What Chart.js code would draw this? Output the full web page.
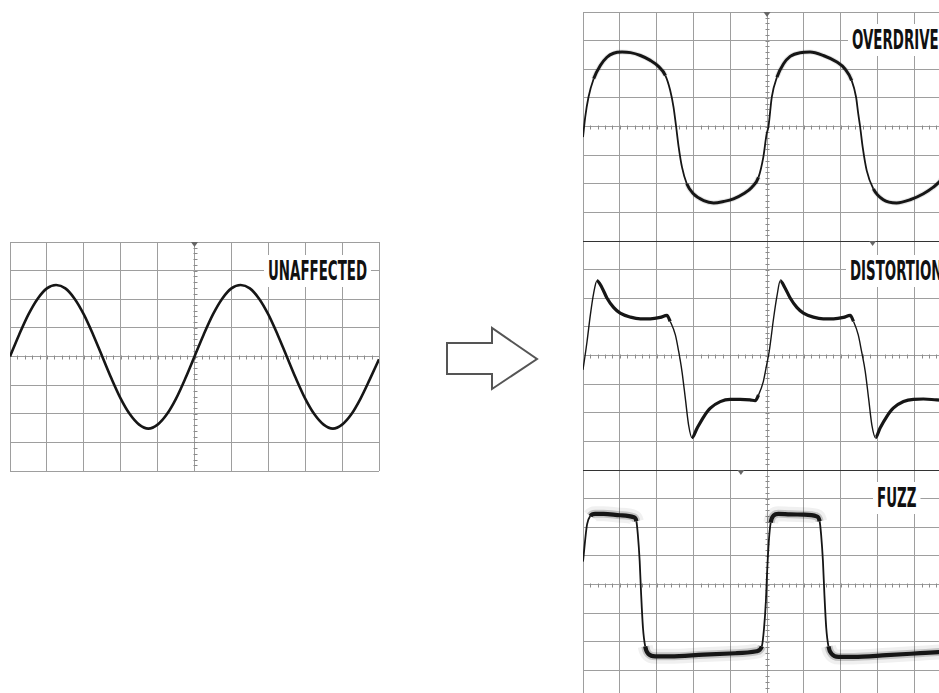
<!DOCTYPE html>
<html>
<head>
<meta charset="utf-8">
<title>Effect waveforms</title>
<script src="https://cdn.jsdelivr.net/npm/chart.js@4.4.1/dist/chart.umd.min.js"></script>
<style>
    html, body { margin: 0; padding: 0; background: #fff; width: 939px; height: 693px; overflow: hidden; }
    .scope { position: absolute; }
    .label {
        position: absolute;
        background: #fff;
        padding: 2px 7px;
        font-family: 'DejaVu Sans Condensed', 'DejaVu Sans', sans-serif;
        font-stretch: condensed;
        font-weight: 700;
        font-size: 26px;
        line-height: 28px;
        color: #111;
        white-space: nowrap;
        transform-origin: left top;
        z-index: 2;
    }
    #arrow { position: absolute; left: 0; top: 0; }
</style>
</head>
<body>

<canvas id="clean" class="scope" width="371" height="231" style="left:9px; top:241px;"></canvas>
<canvas id="overdrive" class="scope" width="370" height="231" style="left:582px; top:11px;"></canvas>
<canvas id="distortion" class="scope" width="370" height="231" style="left:582px; top:240px;"></canvas>
<canvas id="fuzz" class="scope" width="370" height="231" style="left:582px; top:469px;"></canvas>

<div class="label" id="lbl-clean" data-x="268" style="top:255px;">UNAFFECTED</div>
<div class="label" data-x="852" style="top:24px;">OVERDRIVE</div>
<div class="label" data-x="850" style="top:255px;">DISTORTION</div>
<div class="label" data-x="877" style="top:482px;">FUZZ</div>

<svg id="arrow" width="939" height="693">
    <polygon points="447,343 492,343 492,328 537,359 492,389 492,374 447,374"
             fill="#fff" stroke="#555" stroke-width="2" stroke-linejoin="miter"/>
</svg>

<script>
// Screen is 10 divisions wide and 8 divisions tall, values in divisions
const sineX = [0, 0.25, 0.5, 0.75, 1, 1.25, 1.5, 1.75, 2, 2.25, 2.5, 2.75, 3, 3.25, 3.5, 3.75, 4, 4.25, 4.5, 4.75,
    5, 5.25, 5.5, 5.75, 6, 6.25, 6.5, 6.75, 7, 7.25, 7.5, 7.75, 8, 8.25, 8.5, 8.75, 9, 9.25, 9.5, 9.75, 10];
const sineY = [0, 0.77, 1.47, 2.02, 2.38, 2.5, 2.38, 2.02, 1.47, 0.77, 0, -0.77, -1.47, -2.02, -2.38, -2.52, -2.38, -2.02, -1.47, -0.77,
    0, 0.77, 1.47, 2.02, 2.38, 2.5, 2.38, 2.02, 1.47, 0.77, 0, -0.77, -1.47, -2.02, -2.38, -2.52, -2.38, -2.02, -1.47, -0.8, -0.1];

const overdriveX = [0, 0.06, 0.15, 0.29, 0.47, 0.65, 0.83, 1.06, 1.29, 1.56, 1.83, 2.05, 2.24, 2.37, 2.46, 2.53, 2.6, 2.69, 2.82, 3.0,
    3.28, 3.55, 3.82, 4.09, 4.36, 4.59, 4.77, 4.9, 4.99, 5.04, 5.13, 5.27, 5.45, 5.63, 5.9, 6.17, 6.53, 6.9, 7.12, 7.3,
    7.42, 7.48, 7.53, 7.6, 7.71, 7.89, 8.16, 8.52, 8.89, 9.25, 9.52, 9.67, 9.85, 10];
const overdriveY = [-0.37, 0.33, 1.03, 1.67, 2.13, 2.42, 2.56, 2.6, 2.58, 2.48, 2.31, 2.1, 1.78, 1.26, 0.68, 0, -0.72, -1.42, -2.0, -2.35,
    -2.59, -2.67, -2.62, -2.53, -2.35, -2.12, -1.77, -1.07, -0.26, 0, 1.03, 1.72, 2.19, 2.45, 2.58, 2.6, 2.48, 2.25, 2.01, 1.61,
    1.03, 0.44, 0, -0.72, -1.54, -2.18, -2.56, -2.67, -2.56, -2.35, -2.12, -1.95, -1.6, -1.0];

const distortionX = [0, 0.11, 0.2, 0.29, 0.38, 0.52, 0.65, 0.83, 1.01, 1.29, 1.56, 1.83, 2.1, 2.28, 2.37, 2.51, 2.6, 2.69, 2.78, 2.87,
    2.96, 3.1, 3.28, 3.46, 3.73, 4.0, 4.27, 4.54, 4.68, 4.77, 4.9, 4.99, 5.06, 5.18, 5.27, 5.36, 5.49, 5.63, 5.81, 5.99,
    6.26, 6.53, 6.81, 7.08, 7.26, 7.35, 7.48, 7.57, 7.67, 7.76, 7.85, 7.95, 8.07, 8.25, 8.43, 8.71, 8.98, 9.25, 9.61, 10];
const distortionY = [-0.5, 0.49, 1.42, 2.18, 2.61, 2.36, 2.01, 1.68, 1.48, 1.34, 1.28, 1.28, 1.33, 1.4, 1.19, 0.72, 0.14, -0.56, -1.49, -2.43,
    -2.87, -2.54, -2.14, -1.84, -1.61, -1.53, -1.53, -1.55, -1.58, -1.38, -0.91, -0.33, 0.14, 1.31, 2.07, 2.61, 2.36, 2.01, 1.68, 1.48,
    1.34, 1.28, 1.28, 1.33, 1.4, 1.19, 0.72, 0.14, -0.56, -1.49, -2.43, -2.87, -2.54, -2.14, -1.84, -1.61, -1.53, -1.52, -1.55, -1.57];

const fuzzX = [0, 0.11, 0.2, 0.33, 0.56, 1.01, 1.38, 1.45, 1.49, 1.54, 1.58, 1.63, 1.69, 1.78, 1.96, 2.37, 3.28, 4.18, 4.72, 4.86,
    4.92, 4.97, 5.0, 5.05, 5.1, 5.18, 5.31, 5.63, 5.99, 6.35, 6.43, 6.47, 6.52, 6.56, 6.61, 6.67, 6.76, 6.94, 7.35, 8.25,
    9.16, 9.67, 10];
const fuzzY = [0.8, 2.1, 2.39, 2.47, 2.47, 2.42, 2.35, 2.21, 1.75, 0.82, -0.35, -1.52, -2.16, -2.43, -2.51, -2.51, -2.45, -2.4, -2.33, -2.16,
    -1.52, -0.58, 0.35, 1.52, 2.16, 2.41, 2.47, 2.45, 2.44, 2.38, 2.21, 1.75, 0.82, -0.35, -1.52, -2.16, -2.43, -2.53, -2.53, -2.47,
    -2.4, -2.36, -2.33];

// Trigger marker position (in divisions) on each screen
const triggerX = { clean: 5, overdrive: 5, distortion: 7.87, fuzz: 4.29 };

const GRID = '#9e9e9e';
const TRACE = '#161616';

// squeeze the label font so UNAFFECTED is ~99px wide, same factor for all labels
(function fitLabels() {
    const pad = 7;
    const ref = document.getElementById('lbl-clean');
    const s = 99 / (ref.offsetWidth - 2 * pad);
    document.querySelectorAll('.label').forEach(el => {
        el.style.transform = 'scaleX(' + s.toFixed(3) + ')';
        el.style.left = (parseFloat(el.dataset.x) - pad * s) + 'px';
    });
})();

function toPoints(xs, ys) {
    return xs.map((x, i) => ({ x: x, y: ys[i] }));
}

// steep parts of the trace are drawn thinner, like a scope beam moving fast
function isSteep(c) {
    return Math.abs(c.p1.y - c.p0.y) > 2.5 * Math.abs(c.p1.x - c.p0.x);
}

const scopeDecor = {
    id: 'scopeDecor',
    beforeDatasetsDraw(chart, args, opts) {
        const { ctx, chartArea } = chart;
        const xs = chart.scales.x, ys = chart.scales.y;
        const cx = Math.round(xs.getPixelForValue(5)) + 0.5;
        const cy = Math.round(ys.getPixelForValue(0)) + 0.5;
        ctx.save();
        ctx.strokeStyle = '#8a8a8a';
        ctx.lineWidth = 1;
        ctx.beginPath();
        for (let i = 1; i < 50; i++) {
            const px = Math.round(xs.getPixelForValue(i / 5)) + 0.5;
            ctx.moveTo(px, cy - 2);
            ctx.lineTo(px, cy + 2);
        }
        for (let i = 1; i < 40; i++) {
            const py = Math.round(ys.getPixelForValue(-4 + i / 5)) + 0.5;
            ctx.moveTo(cx - 2, py);
            ctx.lineTo(cx + 2, py);
        }
        ctx.stroke();

        // trigger marker hanging from the top edge
        const tx = xs.getPixelForValue(opts.trigger);
        ctx.fillStyle = '#666';
        ctx.beginPath();
        ctx.moveTo(tx - 3.5, chartArea.top);
        ctx.lineTo(tx + 3.5, chartArea.top);
        ctx.lineTo(tx, chartArea.top + 5);
        ctx.closePath();
        ctx.fill();
        ctx.restore();
    }
};

function makeScope(id, xs, ys, style) {
    const pts = toPoints(xs, ys);
    const datasets = [{
        data: pts,
        borderColor: TRACE,
        borderWidth: style.flat,
        segment: {
            borderWidth: c => isSteep(c) ? style.steep : style.flat
        }
    }];
    if (style.haze) {
        style.haze.forEach(h => {
            datasets.push({
                data: pts,
                borderColor: h.color,
                borderWidth: h.width,
                segment: {
                    borderColor: c => isSteep(c) ? 'rgba(0,0,0,0)' : h.color
                }
            });
        });
    }
    datasets.forEach(d => {
        d.pointRadius = 0;
        d.fill = false;
        d.cubicInterpolationMode = 'monotone';
        d.borderJoinStyle = 'round';
        d.borderCapStyle = 'butt';
    });

    return new Chart(document.getElementById(id), {
        type: 'line',
        data: { datasets: datasets },
        options: {
            responsive: false,
            animation: false,
            events: [],
            layout: { padding: 1 },
            plugins: {
                legend: { display: false },
                tooltip: { enabled: false },
                scopeDecor: { trigger: triggerX[id] }
            },
            scales: {
                x: {
                    type: 'linear', min: 0, max: 10,
                    ticks: { display: false, stepSize: 1 },
                    grid: { color: GRID, lineWidth: 1, drawTicks: false },
                    border: { display: false }
                },
                y: {
                    type: 'linear', min: -4, max: 4,
                    ticks: { display: false, stepSize: 1 },
                    grid: {
                        color: c => (style.darkTop && c.tick && c.tick.value === 4) ? '#333' : GRID,
                        lineWidth: 1,
                        drawTicks: false
                    },
                    border: { display: false }
                }
            }
        },
        plugins: [scopeDecor]
    });
}

makeScope('clean', sineX, sineY, { flat: 2.6, steep: 2.2 });
makeScope('overdrive', overdriveX, overdriveY, {
    flat: 3.0, steep: 1.8,
    haze: [{ width: 5, color: 'rgba(0,0,0,0.1)' }]
});
makeScope('distortion', distortionX, distortionY, { flat: 3.2, steep: 1.4, darkTop: true });
makeScope('fuzz', fuzzX, fuzzY, {
    flat: 4.2, steep: 1.8, darkTop: true,
    haze: [{ width: 8, color: 'rgba(0,0,0,0.18)' }, { width: 15, color: 'rgba(0,0,0,0.06)' }]
});
</script>
</body>
</html>
